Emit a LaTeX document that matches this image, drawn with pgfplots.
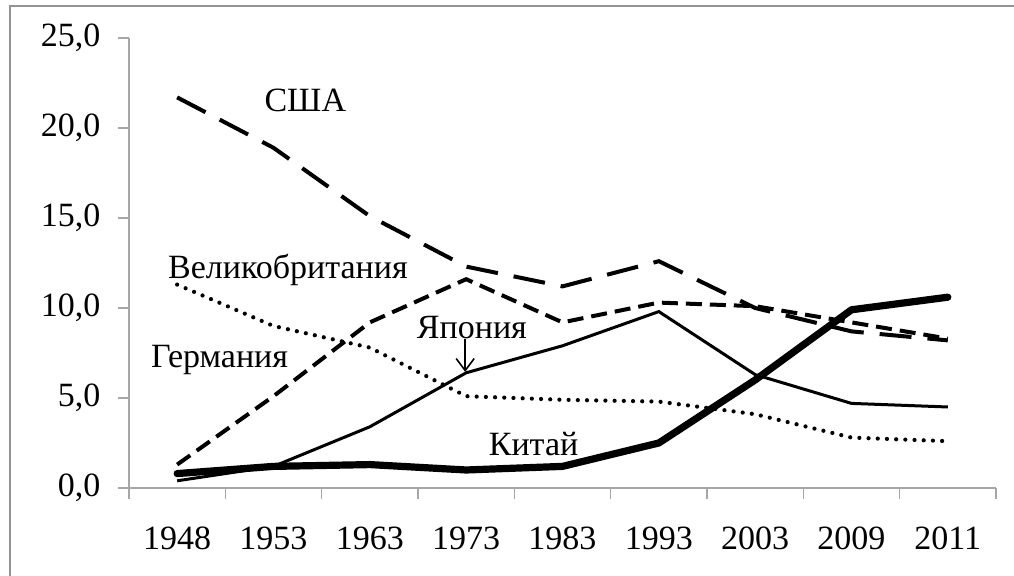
\documentclass[border=0pt]{standalone}
\usepackage{pgfplots}
\pgfplotsset{compat=1.18}
\usetikzlibrary{arrows.meta}
\usepackage{fontspec}
\setmainfont{Liberation Serif}
\begin{document}
\fontsize{17}{20}\selectfont
\begin{tikzpicture}
\useasboundingbox (-64.5pt,-44pt) rectangle (442.5pt,244pt);
\draw[gray!85, line width=0.8pt] (-59.5pt,-44pt) -- (-59.5pt,241pt) -- (442.5pt,241pt);
\begin{axis}[
  at={(0,0)}, anchor=south west,
  scale only axis, width=433.5pt, height=225pt,
  xmin=-0.5, xmax=8.5, ymin=0, ymax=25,
  axis x line*=bottom, axis y line*=left,
  axis line style={draw=gray!70, line width=0.6pt, -},
  tick style={draw=gray!70, line width=0.6pt},
  tick align=outside, major tick length=5.5pt,
  xtick={-0.5,0.5,...,8.5},
  x tick label as interval,
  xticklabels={1948,1953,1963,1973,1983,1993,2003,2009,2011},
  ytick={0,5,10,15,20,25},
  yticklabels={{0,0},{5,0},{10,0},{15,0},{20,0},{25,0}},
  ticklabel style={font=\fontsize{17}{20}\selectfont},
  yticklabel style={xshift=-3pt},
  xticklabel style={yshift=-8pt},
  clip=false,
]
\addplot[black, line width=2pt, dash pattern=on 16pt off 8pt] coordinates {
(0,21.7) (1,18.9) (2,15.1) (3,12.3) (4,11.2) (5,12.6) (6,10.0) (7,8.7) (8,8.2)};
\addplot[black, line width=2pt, dash pattern=on 8pt off 4pt] coordinates {
(0,1.3) (1,5.1) (2,9.2) (3,11.6) (4,9.2) (5,10.3) (6,10.1) (7,9.2) (8,8.3)};
\addplot[black, line width=1.5pt] coordinates {
(0,0.4) (1,1.2) (2,3.4) (3,6.4) (4,7.9) (5,9.8) (6,6.3) (7,4.7) (8,4.5)};
\addplot[black, line width=2.1pt, line cap=round, dash pattern=on 0pt off 4.6pt] coordinates {
(0,11.3) (1,9.0) (2,7.8) (3,5.1) (4,4.9) (5,4.8) (6,4.1) (7,2.8) (8,2.6)};
\addplot[black, line width=3.6pt, line cap=round, line join=round] coordinates {
(0,0.8) (1,1.2) (2,1.3) (3,1.0) (4,1.2) (5,2.5) (6,6.0) (7,9.9) (8,10.6)};
\node at (axis cs:1.33,21.55) {США};
\node at (axis cs:1.15,12.1) {Великобритания};
\node at (axis cs:0.44,7.1) {Германия};
\node at (axis cs:3.06,8.9) {Япония};
\node at (axis cs:3.70,2.45) {Китай};
\draw[-{Straight Barb[length=6pt,width=9pt]}, black, line width=0.8pt] (axis cs:2.99,8.25) -- (axis cs:2.99,6.45);
\end{axis}
\end{tikzpicture}
\end{document}
